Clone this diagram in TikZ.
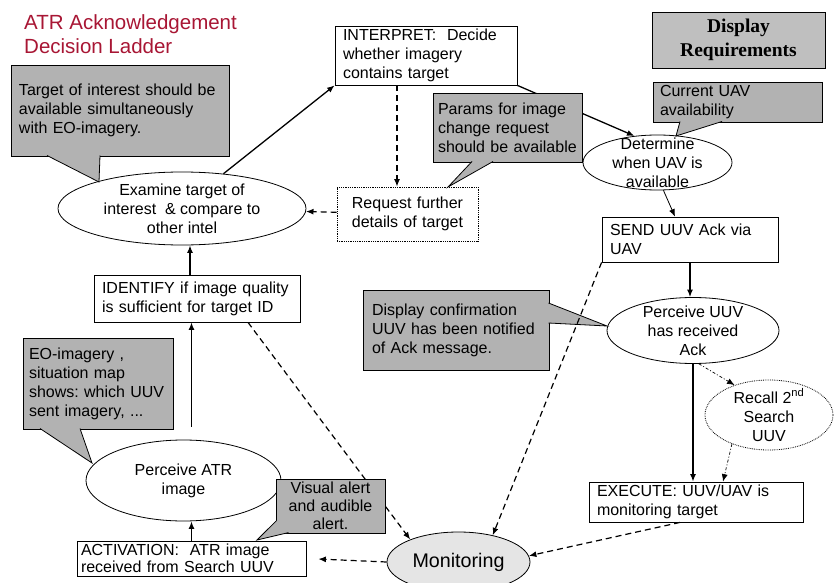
\documentclass[tikz,border=0pt]{standalone}
\usepackage{fontspec}
\setmainfont{Liberation Sans}
\newfontfamily\headserif{Liberation Serif}
\usepackage{tikz}
\usetikzlibrary{arrows.meta,shapes.geometric,positioning}
\definecolor{ladderred}{RGB}{168,22,52}
\frenchspacing

\begin{document}
\begin{tikzpicture}[
    x=1pt, y=-1pt,
    >={Latex[length=7.5pt,width=6pt]},
    font=\fontsize{16}{19}\selectfont,
    task/.style={
		rectangle,
		draw=black,
		line width=0.8pt,
		fill=white,
		align=left,
		inner xsep=8pt,
		inner ysep=2pt
	},
    oval/.style={
		ellipse,
		draw=black,
		line width=0.8pt,
		fill=white,
		align=center,
		inner sep=0pt
	},
    note/.style={
		rectangle,
		draw=black,
		line width=0.8pt,
		fill=black!30,
		align=left,
		inner xsep=8pt,
		inner ysep=2pt
	},
    tail/.style={draw=black, line width=0.8pt, fill=black!30},
    flow/.style={->, line width=1.3pt},
    cue/.style={->, line width=1.2pt, dash pattern=on 6pt off 4pt},
    hint/.style={->, line width=0.7pt, dash pattern=on 3pt off 2pt on 1pt off 2pt}
  ]
  \useasboundingbox (0,0) rectangle (838,583);

  % We start by placing the blocks
  \node [anchor=north west, inner sep=0pt, align=left, text=ladderred,
         font=\fontsize{20.5}{24}\selectfont] (title) at (24,14)
 {ATR Acknowledgement\\Decision Ladder};

  \node [draw=black, line width=0.8pt, fill=black!25, minimum width=173pt, minimum height=56pt,
         align=center, font=\headserif\bfseries\fontsize{19.5}{24}\selectfont] (display) at (738.5,40)
 {Display\\Requirements};

  \node [task, text width=166pt, minimum height=59pt] (interpret) at (426,55.5)
 {INTERPRET:\ \ Decide\\whether imagery\\contains target};

  \node [task, align=center, densely dotted, text width=125pt, minimum height=54pt] (request) at (407.5,214)
 {Request further\\details of target};

  \node [task, text width=160pt, minimum height=45pt] (send) at (690,239.5)
 {SEND UUV Ack via\\UAV};

  \node [task, text width=190pt, minimum height=47pt] (identify) at (197,298.5)
 {IDENTIFY if image quality\\is sufficient for target ID};

  \node [task, text width=198pt, minimum height=40pt] (execute) at (696,502)
 {EXECUTE: UUV/UAV is\\monitoring target};

  \node [task, inner xsep=4pt, inner ysep=0pt, text width=221pt, minimum height=35pt,
         font=\fontsize{16}{17}\selectfont] (activation) at (191.5,558.5)
 {ACTIVATION:\ \ ATR image\\received from Search UUV};

  \node [oval, inner ysep=-3pt, minimum width=248pt, minimum height=73pt] (examine) at (182,208.5)
 {Examine target of\\interest\ \ \& compare to\\other intel};

  \node [oval, inner ysep=-10pt, minimum width=149pt, minimum height=55pt] (determine) at (657.5,162.5)
 {Determine\\when UAV is\\available};

  \node [oval, inner ysep=-6pt, minimum width=172pt, minimum height=66pt] (uuv) at (693,330.5)
 {Perceive UUV\\has received\\Ack};

  \node [oval, densely dotted, inner ysep=-5pt, minimum width=128pt, minimum height=70pt] (recall) at (769,415)
 {Recall 2\textsuperscript{nd}\\Search\\UUV};

  \node [oval, minimum width=195pt, minimum height=81pt] (atr) at (183.5,480.5)
 {Perceive ATR\\image};

  \node [oval, fill=black!10, minimum width=143pt, minimum height=60pt,
         font=\fontsize{19.7}{22}\selectfont] (monitor) at (458.5,562)
 {Monitoring};

 \draw [flow] (examine.40) -- (interpret.south west);
 \draw [flow] (interpret.south east) -- (determine.131);
 \draw [cue] ([xshift=-29pt]interpret.south) -- ([xshift=-29pt]interpret.south |- request.north);
 \draw [cue] (request) -- (examine);
 \draw [->, line width=0.8pt] (determine.-78) -- ([xshift=-15pt]send.north);
 \draw [flow] (send.south) -- (send.south |- uuv.north);
 \draw [flow] (uuv.south) -- (uuv.south |- execute.north);
 \draw [hint] (uuv.-80) -- (recall.139);
 \draw [hint] (recall.-142) -- ([xshift=27pt]execute.north);
 \draw [cue] ([xshift=-16pt]execute.south) -- (monitor.5);
 \draw [cue] ([xshift=51pt]identify.south) -- (monitor.155);
 \draw [cue, shorten >=12pt] (monitor.west) -- (activation.east);
 \draw [flow] (activation.north) -- (activation.north |- atr.south);
 \draw [flow, shorten <=13pt] (atr.north -| activation.north) -- (activation.north |- identify.south);
 \draw [flow] ([xshift=-7pt]identify.north) -- ([xshift=-7pt]identify.north |- examine.south);

  % display requirement notes
  \node [note, text width=202pt, minimum height=91pt] (tnote) at (120,110.5)
 {Target of interest should be\\available simultaneously\\with EO-imagery.};
 \draw [tail] (47,155.5) -- (99,182) -- (100,155.5);

  \node [note, inner xsep=6pt, text width=138pt, minimum height=91pt] (eonote) at (98,383.5)
 {EO-imagery ,\\situation map\\shows: which UUV\\sent imagery, ...};
 \draw [tail] (40,428.5) -- (92,463) -- (80,428.5);

  \node [note, inner xsep=5pt, text width=139pt, minimum height=69pt] (pnote) at (507.5,127.5)
 {Params for image\\change request\\should be available};
 \draw [tail] (472,161.5) -- (448,187) -- (493,161.5);

  \node [note, inner xsep=7pt, text width=155pt, minimum height=40pt] (cnote) at (737.5,102)
 {Current UAV\\availability};
 \draw [tail] (680,121.5) -- (676,136) -- (722,121.5);

  \node [note, inner xsep=9pt, text width=168pt, minimum height=80pt] (dnote) at (456,330)
 {Display confirmation\\UUV has been notified\\of Ack message.};
 \draw [tail] (548.5,303) -- (607,326) -- (548.5,323);

  \node [note, align=center, inner xsep=4pt, inner ysep=0pt, text width=101pt, minimum height=54pt,
         font=\fontsize{16}{18}\selectfont] (vnote) at (330.5,506)
 {Visual alert\\and audible\\alert.};
 \draw [tail] (276.6,520.5) -- (257,540) -- (288.5,532.6);

 \draw [cue] (send.south west) -- (monitor.38);

\end{tikzpicture}
\end{document}
